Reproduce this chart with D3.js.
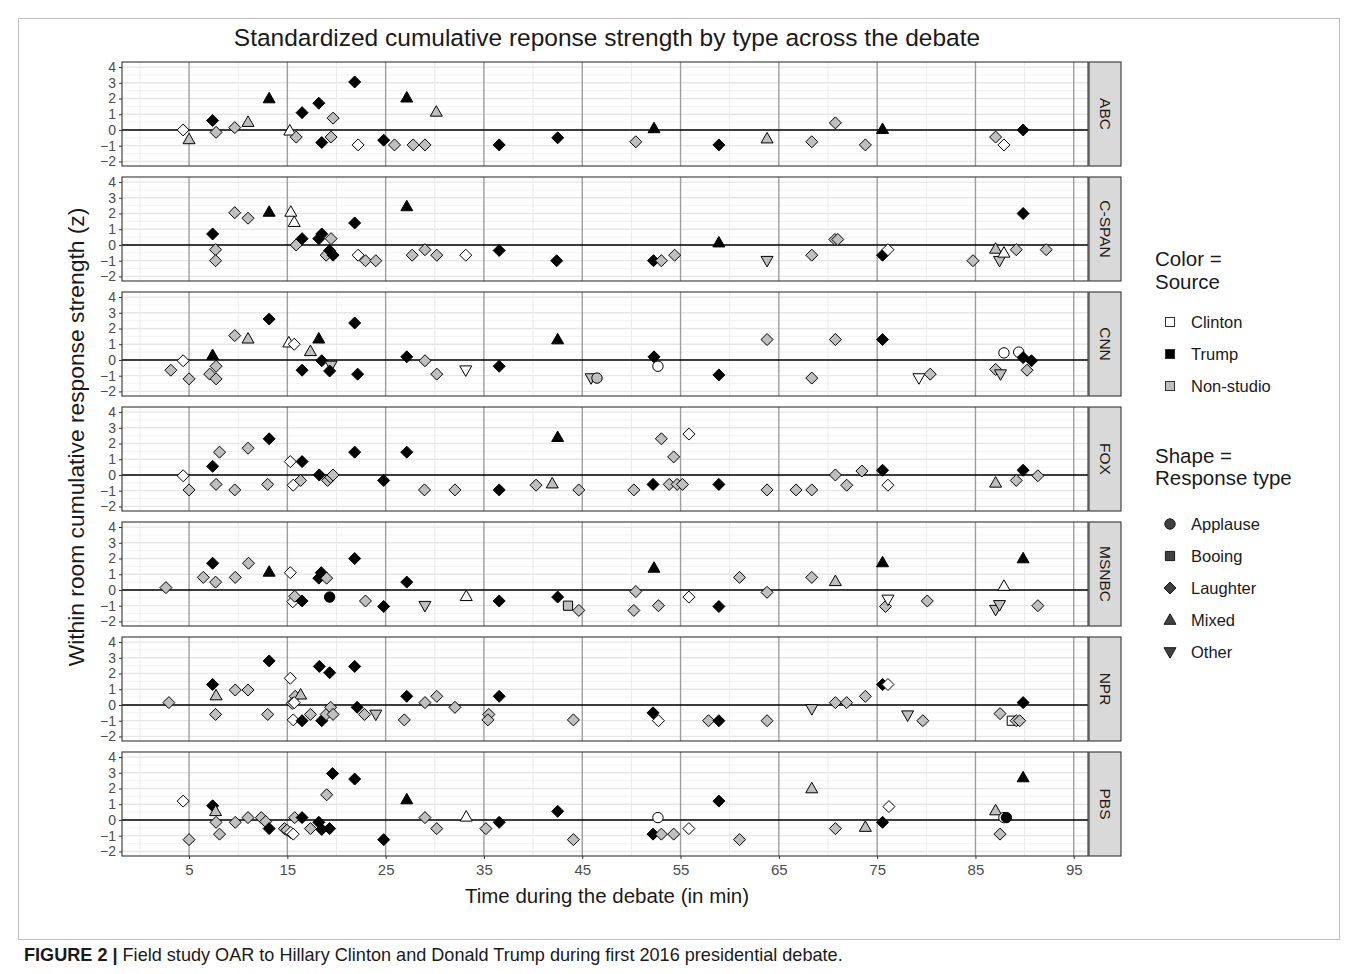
<!DOCTYPE html>
<html>
<head>
<meta charset="utf-8">
<script src="https://cdn.jsdelivr.net/npm/d3@7"></script>
<style>
  body { margin: 0; background: #fff; }
  text { font-family: "Liberation Sans", Arial, Helvetica, sans-serif; }
</style>
</head>
<body>
<svg id="chart" width="1357" height="974"></svg>
<script>
// source: C = Clinton, T = Trump, N = Non-studio
// type: A = Applause, B = Booing, L = Laughter, M = Mixed, O = Other
const networks = ['ABC', 'C-SPAN', 'CNN', 'FOX', 'MSNBC', 'NPR', 'PBS'];

const abc = [
  [4.4, 0, 'C', 'L'], [5.0, -0.6, 'N', 'M'], [7.4, 0.6, 'T', 'L'], [7.75, -0.15, 'N', 'L'],
  [9.65, 0.15, 'N', 'L'], [11.0, 0.5, 'N', 'M'], [13.15, 2.0, 'T', 'M'], [15.25, -0.05, 'C', 'M'],
  [15.9, -0.45, 'N', 'L'], [16.5, 1.1, 'T', 'L'], [18.2, 1.7, 'T', 'L'], [18.5, -0.8, 'T', 'L'],
  [19.45, -0.45, 'N', 'L'], [19.65, 0.75, 'N', 'L'], [21.85, 3.05, 'T', 'L'], [22.2, -0.95, 'C', 'L'],
  [24.8, -0.65, 'T', 'L'], [25.9, -0.95, 'N', 'L'], [27.15, 2.05, 'T', 'M'], [27.8, -0.95, 'N', 'L'],
  [29.0, -0.95, 'N', 'L'], [30.15, 1.15, 'N', 'M'], [36.55, -0.95, 'T', 'L'], [42.5, -0.5, 'T', 'L'],
  [50.45, -0.75, 'N', 'L'], [52.3, 0.1, 'T', 'M'], [58.9, -0.95, 'T', 'L'], [63.8, -0.55, 'N', 'M'],
  [68.35, -0.75, 'N', 'L'], [70.75, 0.45, 'N', 'L'], [73.8, -0.95, 'N', 'L'], [75.55, 0.05, 'T', 'M'],
  [87.05, -0.45, 'N', 'L'], [87.9, -0.95, 'C', 'L'], [89.85, 0, 'T', 'L']
];

const cspan = [
  [7.4, 0.7, 'T', 'L'], [7.7, -0.3, 'N', 'L'], [7.7, -1.0, 'N', 'L'], [9.65, 2.05, 'N', 'L'],
  [11.0, 1.7, 'N', 'L'], [13.15, 2.1, 'T', 'M'], [15.35, 2.1, 'C', 'M'], [15.7, 1.45, 'C', 'M'],
  [15.9, 0, 'N', 'L'], [16.5, 0.4, 'T', 'L'], [18.2, 0.4, 'T', 'L'], [18.5, 0.7, 'T', 'L'],
  [19.45, 0.4, 'N', 'L'], [18.95, -0.65, 'N', 'L'], [19.3, -0.35, 'T', 'L'], [19.65, -0.65, 'T', 'L'],
  [21.85, 1.4, 'T', 'L'], [22.2, -0.65, 'C', 'L'], [22.95, -1.0, 'N', 'L'], [24.0, -1.0, 'N', 'L'],
  [27.15, 2.45, 'T', 'M'], [27.7, -0.65, 'N', 'L'], [29.0, -0.3, 'N', 'L'], [30.2, -0.65, 'N', 'L'],
  [33.15, -0.65, 'C', 'L'], [36.55, -0.35, 'T', 'L'], [42.4, -1.0, 'T', 'L'], [52.25, -1.0, 'T', 'L'],
  [53.05, -1.0, 'N', 'L'], [54.4, -0.65, 'N', 'L'], [58.9, 0.15, 'T', 'M'], [63.8, -1.0, 'N', 'O'],
  [68.35, -0.65, 'N', 'L'], [70.7, 0.35, 'N', 'L'], [71.0, 0.35, 'N', 'L'], [75.55, -0.65, 'T', 'L'],
  [76.1, -0.3, 'C', 'L'], [84.75, -1.0, 'N', 'L'], [87.05, -0.25, 'N', 'M'], [87.45, -1.0, 'N', 'O'],
  [87.9, -0.5, 'C', 'M'], [89.15, -0.3, 'N', 'L'], [89.85, 2.0, 'T', 'L'], [92.2, -0.3, 'N', 'L']
];

const cnn = [
  [3.15, -0.65, 'N', 'L'], [4.4, -0.05, 'C', 'L'], [5.0, -1.2, 'N', 'L'], [7.4, 0.3, 'T', 'M'],
  [7.75, -0.4, 'N', 'L'], [7.1, -0.9, 'N', 'L'], [7.75, -1.2, 'N', 'L'], [9.65, 1.55, 'N', 'L'],
  [11.0, 1.35, 'N', 'M'], [13.15, 2.6, 'T', 'L'], [15.15, 1.1, 'C', 'M'], [15.7, 1.0, 'C', 'L'],
  [17.35, 0.55, 'N', 'M'], [18.2, 1.35, 'T', 'M'], [18.5, -0.05, 'T', 'L'], [19.45, -0.35, 'N', 'O'],
  [19.3, -0.7, 'T', 'L'], [16.5, -0.65, 'T', 'L'], [21.85, 2.35, 'T', 'L'], [22.15, -0.9, 'T', 'L'],
  [27.15, 0.2, 'T', 'L'], [29.0, -0.05, 'N', 'L'], [30.2, -0.9, 'N', 'L'], [33.15, -0.65, 'C', 'O'],
  [36.55, -0.4, 'T', 'L'], [42.5, 1.3, 'T', 'M'], [45.9, -1.15, 'N', 'O'], [46.5, -1.15, 'N', 'A'],
  [52.3, 0.2, 'T', 'L'], [52.7, -0.4, 'C', 'A'], [58.9, -0.95, 'T', 'L'], [63.8, 1.3, 'N', 'L'],
  [68.35, -1.15, 'N', 'L'], [70.75, 1.3, 'N', 'L'], [75.55, 1.3, 'T', 'L'], [79.25, -1.15, 'C', 'O'],
  [80.4, -0.9, 'N', 'L'], [87.05, -0.6, 'N', 'L'], [87.55, -0.9, 'N', 'O'], [87.9, 0.45, 'C', 'A'],
  [89.4, 0.5, 'C', 'A'], [89.85, 0.15, 'T', 'L'], [90.7, -0.05, 'T', 'L'], [90.25, -0.65, 'N', 'L']
];

const fox = [
  [4.4, -0.05, 'C', 'L'], [5.0, -0.95, 'N', 'L'], [7.4, 0.55, 'T', 'L'], [8.1, 1.45, 'N', 'L'],
  [7.75, -0.6, 'N', 'L'], [9.65, -0.95, 'N', 'L'], [11.0, 1.7, 'N', 'L'], [13.15, 2.3, 'T', 'L'],
  [13.0, -0.6, 'N', 'L'], [15.3, 0.85, 'C', 'L'], [16.5, 0.85, 'T', 'L'], [15.6, -0.65, 'C', 'L'],
  [16.35, -0.35, 'N', 'L'], [18.25, 0, 'T', 'L'], [19.1, -0.35, 'N', 'L'], [19.4, -0.15, 'N', 'L'],
  [19.65, 0, 'N', 'L'], [21.85, 1.45, 'T', 'L'], [24.8, -0.35, 'T', 'L'], [27.15, 1.45, 'T', 'L'],
  [28.95, -0.95, 'N', 'L'], [32.05, -0.95, 'N', 'L'], [36.55, -0.95, 'T', 'L'], [40.3, -0.65, 'N', 'L'],
  [41.95, -0.55, 'N', 'M'], [42.5, 2.4, 'T', 'M'], [44.65, -0.95, 'N', 'L'], [50.25, -0.95, 'N', 'L'],
  [52.2, -0.6, 'T', 'L'], [53.05, 2.3, 'N', 'L'], [53.85, -0.6, 'N', 'L'], [54.3, 1.15, 'N', 'L'],
  [54.65, -0.6, 'N', 'L'], [55.2, -0.6, 'N', 'L'], [55.85, 2.6, 'C', 'L'], [58.9, -0.6, 'T', 'L'],
  [63.8, -0.95, 'N', 'L'], [66.75, -0.95, 'N', 'L'], [68.35, -0.95, 'N', 'L'], [70.75, 0, 'N', 'L'],
  [71.9, -0.65, 'N', 'L'], [73.45, 0.25, 'N', 'L'], [75.55, 0.3, 'T', 'L'], [76.1, -0.65, 'C', 'L'],
  [87.05, -0.5, 'N', 'M'], [89.15, -0.35, 'N', 'L'], [89.85, 0.3, 'T', 'L'], [91.35, -0.05, 'N', 'L']
];

const msnbc = [
  [2.65, 0.15, 'N', 'L'], [6.45, 0.8, 'N', 'L'], [7.4, 1.7, 'T', 'L'], [7.7, 0.5, 'N', 'L'],
  [9.7, 0.8, 'N', 'L'], [11.05, 1.7, 'N', 'L'], [13.15, 1.15, 'T', 'M'], [15.3, 1.1, 'C', 'L'],
  [15.55, -0.75, 'C', 'L'], [15.75, -0.4, 'N', 'L'], [16.5, -0.7, 'T', 'L'], [18.2, 0.75, 'T', 'L'],
  [18.45, 1.1, 'T', 'L'], [19.0, 0.75, 'N', 'L'], [19.3, -0.45, 'T', 'A'], [21.85, 2.0, 'T', 'L'],
  [22.95, -0.7, 'N', 'L'], [24.8, -1.05, 'T', 'L'], [27.15, 0.5, 'T', 'L'], [29.0, -1.0, 'N', 'O'],
  [33.2, -0.4, 'C', 'M'], [36.55, -0.7, 'T', 'L'], [42.5, -0.45, 'T', 'L'], [43.55, -1.0, 'N', 'B'],
  [44.65, -1.3, 'N', 'L'], [50.25, -1.3, 'N', 'L'], [50.45, -0.1, 'N', 'L'], [52.3, 1.4, 'T', 'M'],
  [52.75, -1.0, 'N', 'L'], [55.85, -0.45, 'C', 'L'], [58.9, -1.05, 'T', 'L'], [61.0, 0.8, 'N', 'L'],
  [63.8, -0.15, 'N', 'L'], [68.35, 0.8, 'N', 'L'], [70.75, 0.55, 'N', 'M'], [75.55, 1.75, 'T', 'M'],
  [75.85, -1.05, 'N', 'L'], [76.1, -0.6, 'C', 'O'], [80.1, -0.7, 'N', 'L'], [87.05, -1.25, 'N', 'O'],
  [87.45, -0.95, 'N', 'O'], [87.9, 0.25, 'C', 'M'], [89.85, 2.0, 'T', 'M'], [91.35, -1.0, 'N', 'L']
];

const npr = [
  [2.95, 0.15, 'N', 'L'], [7.4, 1.3, 'T', 'L'], [7.75, 0.6, 'N', 'M'], [7.7, -0.6, 'N', 'L'],
  [9.7, 0.95, 'N', 'L'], [11.0, 0.95, 'N', 'L'], [13.15, 2.8, 'T', 'L'], [13.0, -0.6, 'N', 'L'],
  [15.3, 1.7, 'C', 'L'], [15.8, 0.55, 'N', 'L'], [16.35, 0.65, 'N', 'M'], [15.5, 0.1, 'N', 'L'],
  [15.7, 0.15, 'C', 'L'], [15.6, -0.95, 'C', 'L'], [16.5, -1.0, 'T', 'L'], [17.35, -0.6, 'N', 'L'],
  [18.25, 2.45, 'T', 'L'], [19.3, 2.05, 'T', 'L'], [18.5, -1.0, 'T', 'L'], [18.95, -0.6, 'N', 'L'],
  [19.4, -0.15, 'N', 'L'], [19.65, -0.6, 'N', 'L'], [21.85, 2.45, 'T', 'L'], [22.1, -0.15, 'T', 'L'],
  [22.85, -0.6, 'N', 'L'], [24.0, -0.6, 'N', 'O'], [26.9, -0.95, 'N', 'L'], [27.15, 0.55, 'T', 'L'],
  [29.0, 0.15, 'N', 'L'], [30.2, 0.55, 'N', 'L'], [32.05, -0.15, 'N', 'L'], [35.5, -0.6, 'N', 'L'],
  [35.4, -0.95, 'N', 'L'], [36.55, 0.55, 'T', 'L'], [44.1, -0.95, 'N', 'L'], [52.2, -0.5, 'T', 'L'],
  [52.75, -1.0, 'C', 'L'], [57.85, -1.0, 'N', 'L'], [58.9, -1.0, 'T', 'L'], [63.8, -1.0, 'N', 'L'],
  [68.35, -0.25, 'N', 'O'], [70.75, 0.15, 'N', 'L'], [71.9, 0.15, 'N', 'L'], [73.8, 0.55, 'N', 'L'],
  [75.55, 1.3, 'T', 'L'], [76.1, 1.3, 'C', 'L'], [78.1, -0.65, 'N', 'O'], [79.65, -1.0, 'N', 'L'],
  [87.5, -0.55, 'N', 'L'], [88.7, -1.0, 'C', 'B'], [89.15, -1.0, 'N', 'L'], [89.5, -1.0, 'N', 'L'],
  [89.85, 0.15, 'T', 'L']
];

const pbs = [
  [4.4, 1.2, 'C', 'L'], [5.0, -1.25, 'N', 'L'], [7.4, 0.9, 'T', 'L'], [7.7, 0.55, 'N', 'M'],
  [7.75, -0.15, 'N', 'L'], [8.1, -0.9, 'N', 'L'], [9.7, -0.15, 'N', 'L'], [11.0, 0.15, 'N', 'L'],
  [12.35, 0.15, 'N', 'L'], [12.8, -0.1, 'N', 'L'], [13.15, -0.55, 'T', 'L'], [14.7, -0.55, 'N', 'L'],
  [14.95, -0.65, 'N', 'L'], [15.35, -0.8, 'C', 'L'], [15.6, -0.9, 'C', 'L'], [15.75, 0.15, 'N', 'L'],
  [16.5, 0.15, 'T', 'L'], [17.35, -0.55, 'N', 'L'], [18.2, -0.15, 'T', 'L'], [18.5, -0.6, 'T', 'L'],
  [19.3, -0.55, 'T', 'L'], [19.0, 1.6, 'N', 'L'], [19.6, 2.95, 'T', 'L'], [21.85, 2.6, 'T', 'L'],
  [24.8, -1.25, 'T', 'L'], [27.15, 1.3, 'T', 'M'], [29.0, 0.15, 'N', 'L'], [30.2, -0.55, 'N', 'L'],
  [33.2, 0.2, 'C', 'M'], [35.2, -0.55, 'N', 'L'], [36.55, -0.15, 'T', 'L'], [42.5, 0.55, 'T', 'L'],
  [44.1, -1.25, 'N', 'L'], [52.2, -0.9, 'T', 'L'], [52.7, 0.15, 'C', 'A'], [53.05, -0.9, 'N', 'L'],
  [54.3, -0.9, 'N', 'L'], [55.85, -0.55, 'C', 'L'], [58.9, 1.2, 'T', 'L'], [61.0, -1.25, 'N', 'L'],
  [68.35, 2.0, 'N', 'M'], [70.75, -0.55, 'N', 'L'], [73.8, -0.45, 'N', 'M'], [75.55, -0.15, 'T', 'L'],
  [76.2, 0.85, 'C', 'L'], [87.05, 0.6, 'N', 'M'], [87.5, -0.9, 'N', 'L'], [87.9, 0.15, 'C', 'A'],
  [88.15, 0.15, 'T', 'A'], [89.85, 2.7, 'T', 'M']
];

const panelData = [abc, cspan, cnn, fox, msnbc, npr, pbs];

const xTicks = [5, 15, 25, 35, 45, 55, 65, 75, 85, 95];
const yTicks = [-2, -1, 0, 1, 2, 3, 4];
const sourceLabels = ['Clinton', 'Trump', 'Non-studio'];
const typeLabels = ['Applause', 'Booing', 'Laughter', 'Mixed', 'Other'];

const fills = { C: '#ffffff', T: '#000000', N: '#bfbfbf' };

const svg = d3.select('#chart');

const left = 122, right = 1088, stripW = 33;
const top0 = 62, panelH = 104, gap = 11;

const x = d3.scaleLinear().domain([-1.82, 96.45]).range([left, right]);

// shapes centred on 0,0
function shapePath(t) {
  if (t === 'A') { // circle
    const r = 5.2;
    return `M${r},0A${r},${r} 0 1,1 ${-r},0A${r},${r} 0 1,1 ${r},0Z`;
  }
  if (t === 'B') {
    const s = 4.6;
    return `M${-s},${-s}H${s}V${s}H${-s}Z`;
  }
  if (t === 'L') {
    const s = 6;
    return `M0,${-s}L${s},0L0,${s}L${-s},0Z`;
  }
  if (t === 'M') {
    return 'M0,-6.2L6,4.3L-6,4.3Z';
  }
  return 'M0,6.2L6,-4.3L-6,-4.3Z';
}

// figure frame
svg.append('rect')
  .attr('x', 18.5).attr('y', 18.5)
  .attr('width', 1321).attr('height', 921)
  .attr('fill', 'none').attr('stroke', '#bdbdbd').attr('stroke-width', 1);

// title
svg.append('text')
  .attr('x', 607).attr('y', 46)
  .attr('text-anchor', 'middle')
  .attr('font-size', 24.5)
  .attr('fill', '#1a1a1a')
  .text('Standardized cumulative reponse strength by type across the debate');

networks.forEach((name, i) => {
  const top = top0 + i * (panelH + gap);
  const y = d3.scaleLinear().domain([-2.29, 4.32]).range([top + panelH, top]);
  const g = svg.append('g');

  g.append('rect')
    .attr('x', left).attr('y', top)
    .attr('width', right - left).attr('height', panelH)
    .attr('fill', '#fff');

  // minor horizontal grid
  g.selectAll('.hmin')
    .data(d3.range(-1.5, 4, 1))
    .join('line')
    .attr('x1', left).attr('x2', right)
    .attr('y1', d => y(d)).attr('y2', d => y(d))
    .attr('stroke', '#f0f0f0').attr('stroke-width', 0.8);

  // major horizontal grid
  g.selectAll('.hmaj')
    .data(yTicks)
    .join('line')
    .attr('x1', left).attr('x2', right)
    .attr('y1', d => y(d)).attr('y2', d => y(d))
    .attr('stroke', '#e6e6e6').attr('stroke-width', 1.3);

  // minor vertical grid
  g.selectAll('.vmin')
    .data(d3.range(0, 100, 10))
    .join('line')
    .attr('x1', d => x(d)).attr('x2', d => x(d))
    .attr('y1', top).attr('y2', top + panelH)
    .attr('stroke', '#ebebeb').attr('stroke-width', 1);

  // major vertical lines
  g.selectAll('.vmaj')
    .data(xTicks)
    .join('line')
    .attr('x1', d => x(d)).attr('x2', d => x(d))
    .attr('y1', top).attr('y2', top + panelH)
    .attr('stroke', '#9e9e9e').attr('stroke-width', 1.4);

  // zero line
  g.append('line')
    .attr('x1', left).attr('x2', right)
    .attr('y1', y(0)).attr('y2', y(0))
    .attr('stroke', '#000').attr('stroke-width', 1.4);

  // points
  g.selectAll('path.pt')
    .data(panelData[i])
    .join('path')
    .attr('class', 'pt')
    .attr('transform', d => `translate(${x(d[0])},${y(d[1])})`)
    .attr('d', d => shapePath(d[3]))
    .attr('fill', d => fills[d[2]])
    .attr('stroke', '#000')
    .attr('stroke-width', 1);

  // panel border
  g.append('rect')
    .attr('x', left).attr('y', top)
    .attr('width', right - left).attr('height', panelH)
    .attr('fill', 'none').attr('stroke', '#333').attr('stroke-width', 1.1);

  // y axis
  const ya = d3.axisLeft(y).tickValues(yTicks).tickSize(3).tickPadding(3).tickFormat(d3.format('d'));
  const yg = g.append('g').attr('transform', `translate(${left},0)`).call(ya);
  yg.select('.domain').remove();
  yg.selectAll('line').attr('stroke', '#333');
  yg.selectAll('text')
    .attr('font-size', 14)
    .attr('fill', '#4d4d4d')
    .attr('font-family', '"Liberation Sans", Arial, sans-serif');

  // strip
  g.append('rect')
    .attr('x', right + 1).attr('y', top)
    .attr('width', stripW - 1).attr('height', panelH)
    .attr('fill', '#d9d9d9').attr('stroke', '#333').attr('stroke-width', 1.1);
  g.append('text')
    .attr('transform', `translate(${right + 1 + stripW / 2},${top + panelH / 2}) rotate(90)`)
    .attr('text-anchor', 'middle')
    .attr('dy', '0.35em')
    .attr('font-size', 15.5)
    .attr('fill', '#1a1a1a')
    .text(name);

  if (i === networks.length - 1) {
    const xa = d3.axisBottom(x).tickValues(xTicks).tickSize(3).tickPadding(5);
    const xg = g.append('g').attr('transform', `translate(0,${top + panelH})`).call(xa);
    xg.select('.domain').remove();
    xg.selectAll('line').attr('stroke', '#333');
    xg.selectAll('text')
      .attr('font-size', 15)
      .attr('fill', '#4d4d4d')
      .attr('font-family', '"Liberation Sans", Arial, sans-serif');
  }
});

// axis titles
svg.append('text')
  .attr('x', 607).attr('y', 903)
  .attr('text-anchor', 'middle')
  .attr('font-size', 20.5)
  .attr('fill', '#1a1a1a')
  .text('Time during the debate (in min)');

svg.append('text')
  .attr('transform', 'translate(84,437) rotate(-90)')
  .attr('text-anchor', 'middle')
  .attr('font-size', 22.8)
  .attr('fill', '#1a1a1a')
  .text('Within room cumulative response strength (z)');

// legends
const lg = svg.append('g');
lg.append('text').attr('x', 1155).attr('y', 266).attr('font-size', 20.5).attr('fill', '#1a1a1a').text('Color =');
lg.append('text').attr('x', 1155).attr('y', 289).attr('font-size', 20.5).attr('fill', '#1a1a1a').text('Source');

lg.selectAll('.src')
  .data(sourceLabels)
  .join('g')
  .attr('transform', (d, i) => `translate(1170,${322 + i * 32})`)
  .each(function (d, i) {
    const s = d3.select(this);
    s.append('rect')
      .attr('x', -4.5).attr('y', -4.5).attr('width', 9).attr('height', 9)
      .attr('fill', fills[['C', 'T', 'N'][i]])
      .attr('stroke', '#333').attr('stroke-width', 1);
    s.append('text').attr('x', 21).attr('dy', '0.35em').attr('font-size', 16.5).attr('fill', '#1a1a1a').text(d);
  });

lg.append('text').attr('x', 1155).attr('y', 463).attr('font-size', 20.5).attr('fill', '#1a1a1a').text('Shape =');
lg.append('text').attr('x', 1155).attr('y', 485).attr('font-size', 20.5).attr('fill', '#1a1a1a').text('Response type');

lg.selectAll('.typ')
  .data(typeLabels)
  .join('g')
  .attr('transform', (d, i) => `translate(1170,${524 + i * 32})`)
  .each(function (d, i) {
    const s = d3.select(this);
    s.append('path')
      .attr('d', shapePath(['A', 'B', 'L', 'M', 'O'][i]))
      .attr('fill', '#404040')
      .attr('stroke', '#1a1a1a').attr('stroke-width', 1);
    s.append('text').attr('x', 21).attr('dy', '0.35em').attr('font-size', 16.5).attr('fill', '#1a1a1a').text(d);
  });

// caption
const cap = svg.append('text').attr('x', 24).attr('y', 961).attr('font-size', 18.1).attr('fill', '#1a1a1a');
cap.append('tspan').attr('font-weight', 'bold').text('FIGURE 2 | ');
cap.append('tspan').text('Field study OAR to Hillary Clinton and Donald Trump during first 2016 presidential debate.');
</script>
</body>
</html>
